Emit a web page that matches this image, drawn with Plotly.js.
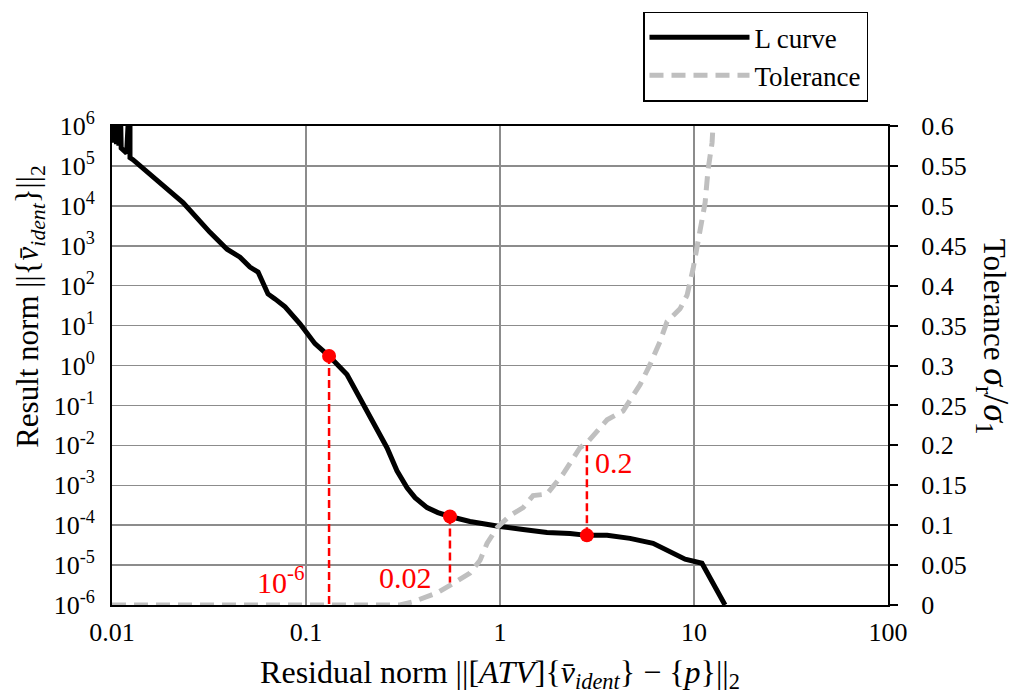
<!DOCTYPE html>
<html>
<head>
<meta charset="utf-8">
<script src="https://cdn.plot.ly/plotly-3.0.1.min.js"></script>
<style>html,body{margin:0;padding:0;background:#fff;}#chart{width:1016px;height:695px;}</style>
</head>
<body>
<div id="chart"></div>
<script>
// ---- data ----
const lcurveX = [0.0100, 0.0101, 0.01025, 0.0104, 0.01055, 0.0107, 0.01085, 0.0110, 0.01115, 0.0113, 0.0119, 0.01238, 0.01238, 0.01282,
  0.01393, 0.01706, 0.02323, 0.03199, 0.03917, 0.0457, 0.0514, 0.0566, 0.0593, 0.0637, 0.0692, 0.0780, 0.0931, 0.1112,
  0.1315, 0.1626, 0.1897, 0.2213, 0.2618, 0.2944, 0.3319, 0.3648, 0.4207, 0.4786, 0.5521, 0.700, 0.789, 1.0, 1.316,
  1.747, 2.296, 2.805, 3.565, 4.677, 6.152, 7.516, 8.995, 10.99, 14.45];
const lcurveY = [4.2e5, 1e7, 3.8e5, 1e7, 3.5e5, 1e7, 3.2e5, 1e7, 2.8e5, 2.6e5, 2.1e5, 1e7, 1.6e5, 1.43e5,
  1.01e5, 4.53e4, 1.21e4, 2170, 818, 518, 292, 219, 124, 62.1, 46.6, 29.4, 11.1, 3.53,
  1.73, 0.597, 0.151, 0.0404, 0.00859, 0.0023, 8.67e-4, 4.9e-4, 2.76e-4, 2.07e-4, 1.65e-4, 1.24e-4, 1.10e-4, 9.29e-5, 7.82e-5,
  6.58e-5, 6.21e-5, 5.55e-5, 5.55e-5, 4.67e-5, 3.51e-5, 2.09e-5, 1.40e-5, 1.11e-5, 1e-6];

const tolX = [0.01, 0.1, 0.305, 0.356, 0.473, 0.573, 0.700, 0.789, 0.857, 0.966, 1.127, 1.316, 1.481, 1.747, 2.113, 2.584, 2.805,
  3.565, 4.307, 5.27, 5.93, 6.68, 7.26, 8.47, 9.21, 9.89, 10.49, 11.41, 11.81, 12.39, 12.53, 12.7];
const tolY = [0, 0, 0, 0.004, 0.015, 0.027, 0.040, 0.056, 0.077, 0.097, 0.112, 0.122, 0.137, 0.139, 0.164, 0.197, 0.203,
  0.232, 0.243, 0.276, 0.301, 0.330, 0.355, 0.371, 0.388, 0.421, 0.454, 0.504, 0.545, 0.579, 0.600, 0.62];

// selected points on the L curve and the tolerance they correspond to
const pickX = [0.1315, 0.5521, 2.805];
const pickY = [1.73, 1.65e-4, 5.55e-5];
const pickTol = [1e-6, 0.028, 0.2];
const pickLabels = ['10<sup>-6</sup>', '0.02', '0.2'];

const xTickVals = [0.01, 0.1, 1, 10, 100];
const xTickText = ['0.01', '0.1', '1', '10', '100'];
const yTickVals = [1e-6, 1e-5, 1e-4, 1e-3, 1e-2, 1e-1, 1, 1e1, 1e2, 1e3, 1e4, 1e5, 1e6];
const yTickText = ['10<sup>-6</sup>', '10<sup>-5</sup>', '10<sup>-4</sup>', '10<sup>-3</sup>', '10<sup>-2</sup>', '10<sup>-1</sup>',
  '10<sup>0</sup>', '10<sup>1</sup>', '10<sup>2</sup>', '10<sup>3</sup>', '10<sup>4</sup>', '10<sup>5</sup>', '10<sup>6</sup>'];
const y2TickVals = [0, 0.05, 0.1, 0.15, 0.2, 0.25, 0.3, 0.35, 0.4, 0.45, 0.5, 0.55, 0.6];
const y2TickText = ['0', '0.05', '0.1', '0.15', '0.2', '0.25', '0.3', '0.35', '0.4', '0.45', '0.5', '0.55', '0.6'];

// ---- axis ranges ----
const yLogRange = [-6, 6];
const y2Range = [0, 0.6];
// convert a tolerance value to the equivalent left-axis value (the two axes share the frame)
function tolToLeft(t) {
  const f = (t - y2Range[0]) / (y2Range[1] - y2Range[0]);
  return Math.pow(10, yLogRange[0] + f * (yLogRange[1] - yLogRange[0]));
}

const FONT = 'Liberation Serif';
const RED = '#ff0000';

const vx = [], vy = [];
pickX.forEach((x, i) => { vx.push(x, x, null); vy.push(pickY[i], tolToLeft(pickTol[i]), null); });

const traces = [
  {x: vx, y: vy, xaxis: 'x', yaxis: 'y', mode: 'lines', showlegend: false, hoverinfo: 'skip',
   line: {color: RED, width: 2.5, dash: '8px,4px'}},
  {x: lcurveX, y: lcurveY, xaxis: 'x', yaxis: 'y', mode: 'lines', name: 'L curve',
   line: {color: '#000000', width: 5}},
  {x: pickX, y: pickY, xaxis: 'x', yaxis: 'y', mode: 'markers', showlegend: false,
   marker: {color: RED, size: 14}},
  {x: tolX, y: tolY, xaxis: 'x', yaxis: 'y2', mode: 'lines', name: 'Tolerance',
   line: {color: '#bfbfbf', width: 5, dash: '14px,8px'}}
];

const annotations = [
  {xref: 'paper', yref: 'paper', x: (30 - 112) / 776, y: (605 - 305) / 482, textangle: -90, showarrow: false,
   xanchor: 'center', yanchor: 'middle',
   text: 'Result norm ||{<i>v̄</i><sub><i>ident</i></sub>}||<sub>2</sub>', font: {family: FONT, size: 31, color: '#000'}},
  {xref: 'paper', yref: 'paper', x: (993 - 112) / 776, y: (605 - 335) / 482, textangle: 90, showarrow: false,
   xanchor: 'center', yanchor: 'middle',
   text: 'Tolerance <span style="font-size:36px"><i>σ</i><sub>r</sub>/<i>σ</i><sub>1</sub></span>',
   font: {family: FONT, size: 31, color: '#000'}}
];
const labelPos = [[-1.129, 0.031], [-0.485, 0.034], [0.590, 0.179]];
pickLabels.forEach((t, i) => {
  annotations.push({xref: 'x', yref: 'y2', x: labelPos[i][0], y: labelPos[i][1], text: t, showarrow: false,
    font: {family: FONT, size: 30, color: RED}});
});

const layout = {
  width: 1016, height: 695,
  margin: {l: 112, r: 128, t: 123, b: 90, pad: 0},
  paper_bgcolor: '#ffffff', plot_bgcolor: '#ffffff',
  font: {family: FONT, size: 26, color: '#000'},
  xaxis: {type: 'log', range: [-2, 2], tickvals: xTickVals, ticktext: xTickText,
    showgrid: true, gridcolor: '#8c8c8c', gridwidth: 1.5, zeroline: false,
    showline: true, linecolor: '#000', linewidth: 2, mirror: true, ticks: '', ticklabelstandoff: 3,
    tickfont: {family: FONT, size: 26, color: '#000'},
    title: {text: 'Residual norm ||[<i>ATV</i>]{<i>v̄</i><sub><i>ident</i></sub>} − {<i>p</i>}||<sub>2</sub>',
      font: {family: FONT, size: 32, color: '#000'}, standoff: 14}},
  yaxis: {type: 'log', range: yLogRange, tickvals: yTickVals, ticktext: yTickText,
    showgrid: true, gridcolor: '#8c8c8c', gridwidth: 1.5, zeroline: false,
    showline: true, linecolor: '#000', linewidth: 2, ticks: '', ticklabelstandoff: 10,
    tickfont: {family: FONT, size: 26, color: '#000'}},
  yaxis2: {overlaying: 'y', side: 'right', range: y2Range, tickvals: y2TickVals, ticktext: y2TickText,
    showgrid: false, zeroline: false, showline: true, linecolor: '#000', linewidth: 2,
    ticks: 'outside', ticklen: 8, tickwidth: 2, tickcolor: '#000', ticklabelstandoff: 18,
    tickfont: {family: FONT, size: 26, color: '#000'}},
  legend: {x: (643 - 112) / 776, y: (605 - 8) / 482, xanchor: 'left', yanchor: 'top',
    bgcolor: '#ffffff', bordercolor: '#000', borderwidth: 1.5,
    font: {family: FONT, size: 27, color: '#000'}, itemwidth: 100, tracegroupgap: 0},
  annotations: annotations,
  showlegend: true
};

Plotly.newPlot('chart', traces, layout, {staticPlot: true, displayModeBar: false});
</script>
</body>
</html>
